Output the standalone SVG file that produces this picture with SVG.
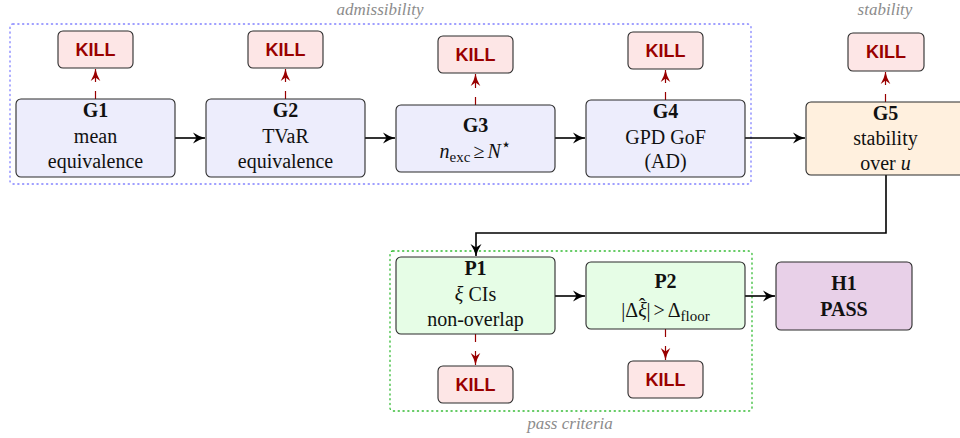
<svg xmlns="http://www.w3.org/2000/svg" width="960" height="438" viewBox="0 0 960 438">
<style>
.node rect{stroke:#2b2b2b;stroke-width:1.1}
.g rect{fill:#ededfc}
.g5 rect{fill:#fff0de}
.p rect{fill:#e6fde6}
.h rect{fill:#e8d0e8}
.kill rect{fill:#fde6e6}
.t{font-family:"Liberation Serif","Times New Roman",serif;font-size:20px;fill:#111;text-anchor:middle}
.i{font-style:italic}
.b{font-weight:bold}
.k{font-family:"Liberation Sans",Arial,sans-serif;font-size:18px;font-weight:bold;fill:#990000;text-anchor:middle}
.lab{font-family:"Liberation Serif","Times New Roman",serif;font-size:17px;font-style:italic;fill:#8c8c8c;text-anchor:middle}
.arr{fill:none;stroke:#000;stroke-width:1.6}
.red{fill:none;stroke:#990000;stroke-width:1.2;stroke-dasharray:8 9 20}
</style>
<defs>
<marker id="ah" markerUnits="userSpaceOnUse" viewBox="-13 -6 14 12" refX="0" refY="0" markerWidth="14" markerHeight="12" orient="auto">
<path d="M0,0 Q-6,-1.5 -12,-5.5 L-8.5,0 L-12,5.5 Q-6,1.5 0,0Z" fill="#000"/>
</marker>
<marker id="rh" markerUnits="userSpaceOnUse" viewBox="-13 -6 14 12" refX="0" refY="0" markerWidth="14" markerHeight="12" orient="auto">
<path d="M0,0 Q-6,-1.2 -12,-4.8 L-8.5,0 L-12,4.8 Q-6,1.2 0,0Z" fill="#990000"/>
</marker>
</defs>

<g id="groups">
<rect x="10" y="24" width="741" height="160" rx="3" fill="none" stroke="#8080ff" stroke-width="1.3" stroke-dasharray="1.2 3.6" stroke-linecap="round"/>
<text class="lab" x="380" y="15">admissibility</text>
<text class="lab" x="885" y="15">stability</text>
<rect x="390" y="251" width="362" height="160" rx="3" fill="none" stroke="#33bb33" stroke-width="1.3" stroke-dasharray="1.2 3.6" stroke-linecap="round"/>
<text class="lab" x="570" y="429">pass criteria</text>
</g>

<g id="connectors">
<line class="arr" x1="175" y1="138" x2="205" y2="138" marker-end="url(#ah)"/>
<line class="arr" x1="365" y1="138" x2="395" y2="138" marker-end="url(#ah)"/>
<line class="arr" x1="555" y1="138" x2="585" y2="138" marker-end="url(#ah)"/>
<line class="arr" x1="745" y1="138" x2="805" y2="138" marker-end="url(#ah)"/>
<path class="arr" d="M886,175 V233 H476 V256" marker-end="url(#ah)"/>
<line class="arr" x1="555" y1="296" x2="585" y2="296" marker-end="url(#ah)"/>
<line class="arr" x1="745" y1="296" x2="775" y2="296" marker-end="url(#ah)"/>
<line class="red" x1="95.5" y1="99" x2="95.5" y2="69" marker-end="url(#rh)"/>
<line class="red" x1="285.5" y1="99" x2="285.5" y2="69" marker-end="url(#rh)"/>
<line class="red" x1="475.5" y1="105" x2="475.5" y2="74" marker-end="url(#rh)"/>
<line class="red" x1="665.5" y1="100" x2="665.5" y2="70" marker-end="url(#rh)"/>
<line class="red" x1="885.5" y1="102" x2="885.5" y2="72" marker-end="url(#rh)"/>
<line class="red" x1="475.5" y1="334" x2="475.5" y2="365" marker-end="url(#rh)"/>
<line class="red" x1="665.5" y1="329" x2="665.5" y2="360" marker-end="url(#rh)"/>
</g>

<g id="G1" class="node g"><rect x="16" y="99" width="159" height="78" rx="5"/>
<text class="t b" x="95.5" y="117">G1</text><text class="t" x="95.5" y="143">mean</text><text class="t" x="95.5" y="168">equivalence</text></g>
<g id="G2" class="node g"><rect x="206" y="99" width="159" height="78" rx="5"/>
<text class="t b" x="285.5" y="117">G2</text><text class="t" x="285.5" y="143">TVaR</text><text class="t" x="285.5" y="168">equivalence</text></g>
<g id="G3" class="node g"><rect x="396" y="105" width="159" height="67" rx="5"/>
<text class="t b" x="475.5" y="132">G3</text>
<text class="t" x="475.5" y="158" font-size="22"><tspan class="i">n</tspan><tspan font-size="15" dy="4">exc</tspan><tspan dy="-4" dx="3">≥</tspan><tspan class="i" dx="3">N</tspan><tspan font-size="17" dy="-8" font-family="DejaVu Sans, sans-serif">⋆</tspan></text></g>
<g id="G4" class="node g"><rect x="586" y="100" width="159" height="77" rx="5"/>
<text class="t b" x="665.5" y="118">G4</text><text class="t" x="665.5" y="144">GPD GoF</text><text class="t" x="665.5" y="168">(AD)</text></g>
<g id="G5" class="node g5"><rect x="806" y="102" width="159" height="73" rx="5"/>
<text class="t b" x="885.5" y="120">G5</text><text class="t" x="885.5" y="145">stability</text><text class="t" x="885.5" y="170">over <tspan class="i">u</tspan></text></g>

<g id="K1" class="node kill"><rect x="58" y="31" width="75" height="37" rx="5"/><text class="k" x="95.5" y="56">KILL</text></g>
<g id="K2" class="node kill"><rect x="248" y="31" width="75" height="37" rx="5"/><text class="k" x="285.5" y="56">KILL</text></g>
<g id="K3" class="node kill"><rect x="438" y="36" width="75" height="37" rx="5"/><text class="k" x="475.5" y="61">KILL</text></g>
<g id="K4" class="node kill"><rect x="628" y="32" width="75" height="37" rx="5"/><text class="k" x="665.5" y="57">KILL</text></g>
<g id="K5" class="node kill"><rect x="848" y="33" width="76" height="38" rx="5"/><text class="k" x="886" y="58">KILL</text></g>

<g id="P1" class="node p"><rect x="396" y="257" width="159" height="77" rx="5"/>
<text class="t b" x="475.5" y="275">P1</text><text class="t" x="475.5" y="301"><tspan class="i">ξ</tspan> CIs</text><text class="t" x="475.5" y="326">non-overlap</text></g>
<g id="P2" class="node p"><rect x="586" y="262" width="159" height="67" rx="5"/>
<text class="t b" x="665.5" y="288">P2</text>
<text class="t" x="665.5" y="317" font-size="21">|Δ<tspan class="i">ξ</tspan><tspan dx="-8" dy="-4">ˆ</tspan><tspan dx="1" dy="4">|</tspan><tspan dx="3">&gt;</tspan><tspan dx="3">Δ</tspan><tspan font-size="15" dy="4">floor</tspan></text></g>
<g id="H1" class="node h"><rect x="776" y="262" width="136" height="68" rx="5"/>
<text class="t b" x="844" y="290">H1</text><text class="t b" x="844" y="316">PASS</text></g>
<g id="KP1" class="node kill"><rect x="438" y="366" width="75" height="37" rx="5"/><text class="k" x="475.5" y="391">KILL</text></g>
<g id="KP2" class="node kill"><rect x="628" y="361" width="75" height="37" rx="5"/><text class="k" x="665.5" y="386">KILL</text></g>
</svg>
